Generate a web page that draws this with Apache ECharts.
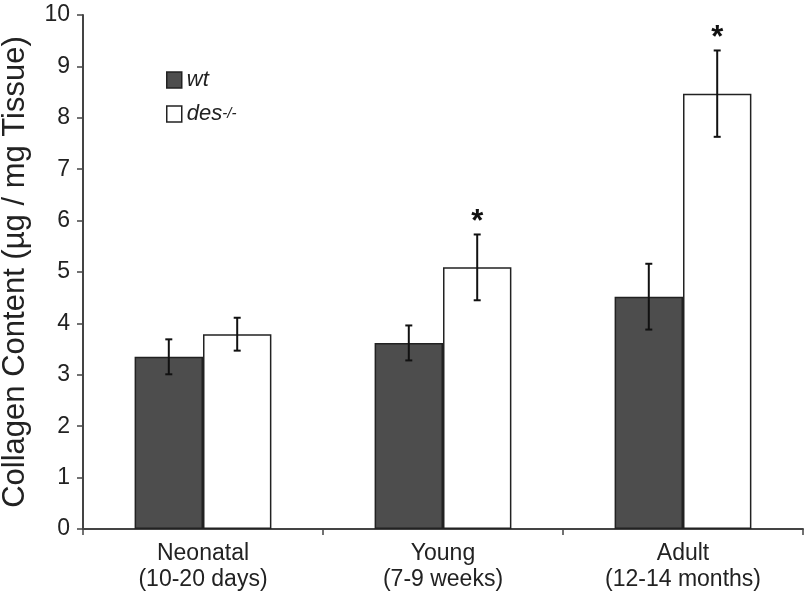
<!DOCTYPE html>
<html>
<head>
<meta charset="utf-8">
<script src="https://cdn.jsdelivr.net/npm/echarts@6/dist/echarts.min.js"></script>
<style>
  html, body { margin: 0; padding: 0; background: #fff; }
  #main { width: 805px; height: 595px; }
</style>
</head>
<body>
<div id="main"></div>
<script>
var categories = ['Neonatal\n(10-20 days)', 'Young\n(7-9 weeks)', 'Adult\n(12-14 months)'];
var wtValues = [3.35, 3.62, 4.52];
var wtErrors = [0.34, 0.34, 0.64];
var desValues = [3.79, 5.09, 8.47];
var desErrors = [0.32, 0.64, 0.84];
var desSignificant = [false, true, true];
var yTicks = [0, 1, 2, 3, 4, 5, 6, 7, 8, 9, 10];

var BAR_PCT = 0.285;

var chart = echarts.init(document.getElementById('main'));

// error bars (and the * marks) drawn next to each bar
function errorSeries(name, values, errors, side, stars) {
  return {
    name: name + '-err',
    type: 'custom',
    z: 5,
    silent: true,
    data: values.map(function (v, i) { return [i, v - errors[i], v + errors[i]]; }),
    renderItem: function (params, api) {
      var i = api.value(0);
      var band = api.size([1, 0])[0];
      var dx = side * band * BAR_PCT / 2;
      var lo = api.coord([i, api.value(1)]);
      var hi = api.coord([i, api.value(2)]);
      var x = lo[0] + dx;
      var cap = 3.5;
      var st = { stroke: '#111', lineWidth: 2 };
      var kids = [
        { type: 'line', shape: { x1: x, y1: lo[1], x2: x, y2: hi[1] }, style: st },
        { type: 'line', shape: { x1: x - cap, y1: lo[1], x2: x + cap, y2: lo[1] }, style: st },
        { type: 'line', shape: { x1: x - cap, y1: hi[1], x2: x + cap, y2: hi[1] }, style: st }
      ];
      if (stars && stars[i]) {
        kids.push({
          type: 'text',
          style: {
            x: x, y: hi[1] + 3, text: '*', align: 'center', verticalAlign: 'bottom',
            font: 'bold 31px "Liberation Sans", Arial, sans-serif', fill: '#111'
          }
        });
      }
      return { type: 'group', children: kids };
    }
  };
}

var option = {
  animation: false,
  backgroundColor: '#fff',
  textStyle: { fontFamily: '"Liberation Sans", Arial, Helvetica, sans-serif' },
  grid: { left: 83, right: 2, top: 15, bottom: 66, containLabel: false, outerBoundsMode: 'none' },
  legend: {
    orient: 'vertical',
    left: 161,
    top: 64,
    itemWidth: 15,
    itemHeight: 16,
    itemGap: 12,
    icon: 'rect',
    selectedMode: false,
    textStyle: {
      fontSize: 22, fontStyle: 'italic', color: '#222', lineHeight: 16,
      rich: {
        it: { fontSize: 22, fontStyle: 'italic', color: '#222', lineHeight: 16 },
        sup: { fontSize: 15, fontStyle: 'italic', color: '#222', lineHeight: 16, verticalAlign: 'top', padding: [0, 0, 12, 0] }
      }
    },
    formatter: function (n) {
      return n === 'des' ? '{it|des}{sup|-/-}' : '{it|' + n + '}';
    },
    data: [
      { name: 'wt', itemStyle: { color: '#4d4d4d', borderColor: '#222', borderWidth: 1.5 } },
      { name: 'des', itemStyle: { color: '#fff', borderColor: '#222', borderWidth: 1.5 } }
    ]
  },
  xAxis: {
    type: 'category',
    data: categories,
    axisLine: { lineStyle: { color: '#444', width: 2 } },
    axisTick: { show: true, length: 6, lineStyle: { color: '#444', width: 1.5 } },
    axisLabel: { fontSize: 23, color: '#222', lineHeight: 26, margin: 12 }
  },
  yAxis: {
    type: 'value',
    min: yTicks[0],
    max: yTicks[yTicks.length - 1],
    interval: 1,
    name: 'Collagen Content (\u00b5g / mg Tissue)',
    nameLocation: 'middle',
    nameGap: 52,
    nameTextStyle: { fontSize: 31, color: '#222' },
    axisLine: { show: true, lineStyle: { color: '#444', width: 2 } },
    axisTick: { show: true, length: 6, lineStyle: { color: '#444', width: 1.5 } },
    axisLabel: { fontSize: 23, color: '#222', margin: 13 },
    splitLine: { show: false }
  },
  series: [
    {
      name: 'wt', type: 'bar', data: wtValues, barWidth: (BAR_PCT * 100) + '%', barGap: '0%',
      itemStyle: { color: '#4d4d4d', borderColor: '#222', borderWidth: 1.5 }
    },
    {
      name: 'des', type: 'bar', data: desValues, barWidth: (BAR_PCT * 100) + '%', barGap: '0%',
      itemStyle: { color: '#fff', borderColor: '#222', borderWidth: 1.5 }
    },
    errorSeries('wt', wtValues, wtErrors, -1, null),
    errorSeries('des', desValues, desErrors, 1, desSignificant)
  ]
};

chart.setOption(option);
window.addEventListener('resize', function () { chart.resize(); });
</script>
</body>
</html>
